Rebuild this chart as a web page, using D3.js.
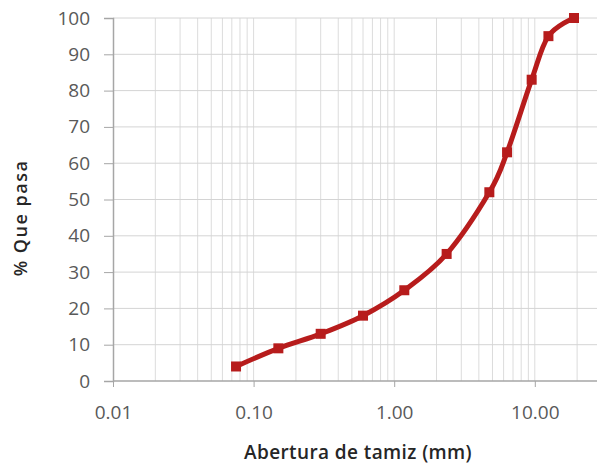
<!DOCTYPE html>
<html>
<head>
<meta charset="utf-8">
<script src="https://cdn.jsdelivr.net/npm/d3@7"></script>
<style>
  body { margin: 0; background: #fff; }
  svg text { font-family: "Open Sans", "Liberation Sans", sans-serif; }
</style>
</head>
<body>
<div id="chart"></div>
<script>
// sieve opening (mm) and % passing
var aberturas = [0.075, 0.15, 0.3, 0.6, 1.18, 2.36, 4.75, 6.35, 9.5, 12.5, 19];
var pasa = [4, 9, 13, 18, 25, 35, 52, 63, 83, 95, 100];
var xTicks = [0.01, 0.1, 1, 10];
var yTicks = [0, 10, 20, 30, 40, 50, 60, 70, 80, 90, 100];

var W = 597, H = 464;
var padL = 113, padT = 18, baseY = 381;

var svg = d3.select("#chart").append("svg")
    .attr("width", W)
    .attr("height", H);

var x = d3.scaleLog()
    .domain([0.01, 100])
    .range([padL, padL + 4 * 140.6]);
var y = d3.scaleLinear()
    .domain([0, 100])
    .range([baseY, padT]);

svg.append("defs").append("clipPath").attr("id", "clip")
    .append("rect")
    .attr("x", padL).attr("y", 0)
    .attr("width", W - padL).attr("height", baseY + 1);

var grid = svg.append("g").attr("clip-path", "url(#clip)");

// minor + major vertical grid
var vlines = [];
[0.01, 0.1, 1, 10].forEach(function (d) {
    for (var k = 1; k <= 9; k++) vlines.push(d * k);
});
grid.selectAll("line.v")
    .data(vlines)
    .enter().append("line")
    .attr("class", "v")
    .attr("x1", function (d) { return x(d); })
    .attr("x2", function (d) { return x(d); })
    .attr("y1", padT)
    .attr("y2", baseY)
    .attr("stroke", "#dcdcdc")
    .attr("stroke-width", 1);

grid.selectAll("line.h")
    .data(yTicks.slice(1))
    .enter().append("line")
    .attr("class", "h")
    .attr("x1", padL)
    .attr("x2", W)
    .attr("y1", function (d) { return y(d); })
    .attr("y2", function (d) { return y(d); })
    .attr("stroke", "#d4d4d4")
    .attr("stroke-width", 1);

// axes
var yAxis = d3.axisLeft(y)
    .tickValues(yTicks)
    .tickSize(9)
    .tickPadding(14)
    .tickFormat(d3.format("d"));
var gy = svg.append("g")
    .attr("transform", "translate(" + padL + ",0)")
    .call(yAxis);

var xAxis = d3.axisBottom(x)
    .tickValues(xTicks)
    .tickSize(6)
    .tickPadding(19)
    .tickFormat(d3.format(".2f"));
var gx = svg.append("g")
    .attr("transform", "translate(0," + baseY + ")")
    .call(xAxis);

[gx, gy].forEach(function (g) {
    g.select(".domain").attr("stroke", "#a6a6a6").attr("stroke-width", 1.5);
    g.selectAll(".tick line").attr("stroke", "#a6a6a6");
    g.selectAll(".tick text")
        .attr("fill", "#595959")
        .style("font-size", "19px");
});
gx.select(".domain").attr("d", "M" + padL + ",0H" + W);

// curve
var pts = aberturas.map(function (d, i) { return [d, pasa[i]]; });
var line = d3.line()
    .x(function (d) { return x(d[0]); })
    .y(function (d) { return y(d[1]); })
    .curve(d3.curveCatmullRom.alpha(0));

svg.append("path")
    .datum(pts)
    .attr("fill", "none")
    .attr("stroke", "#b71c1c")
    .attr("stroke-width", 5)
    .attr("stroke-linejoin", "round")
    .attr("d", line);

svg.selectAll("rect.m")
    .data(pts)
    .enter().append("rect")
    .attr("class", "m")
    .attr("x", function (d) { return x(d[0]) - 5; })
    .attr("y", function (d) { return y(d[1]) - 5; })
    .attr("width", 10)
    .attr("height", 10)
    .attr("fill", "#b71c1c");

// titles
svg.append("text")
    .attr("x", 358)
    .attr("y", 459)
    .attr("text-anchor", "middle")
    .attr("fill", "#262626")
    .style("font-size", "19px")
    .style("font-weight", "600")
    .style("letter-spacing", "0.4px")
    .text("Abertura de tamiz (mm)");

svg.append("text")
    .attr("transform", "translate(27,218) rotate(-90)")
    .attr("text-anchor", "middle")
    .attr("fill", "#262626")
    .style("font-size", "18px")
    .style("font-weight", "600")
    .style("letter-spacing", "1.5px")
    .text("% Que pasa");
</script>
</body>
</html>
